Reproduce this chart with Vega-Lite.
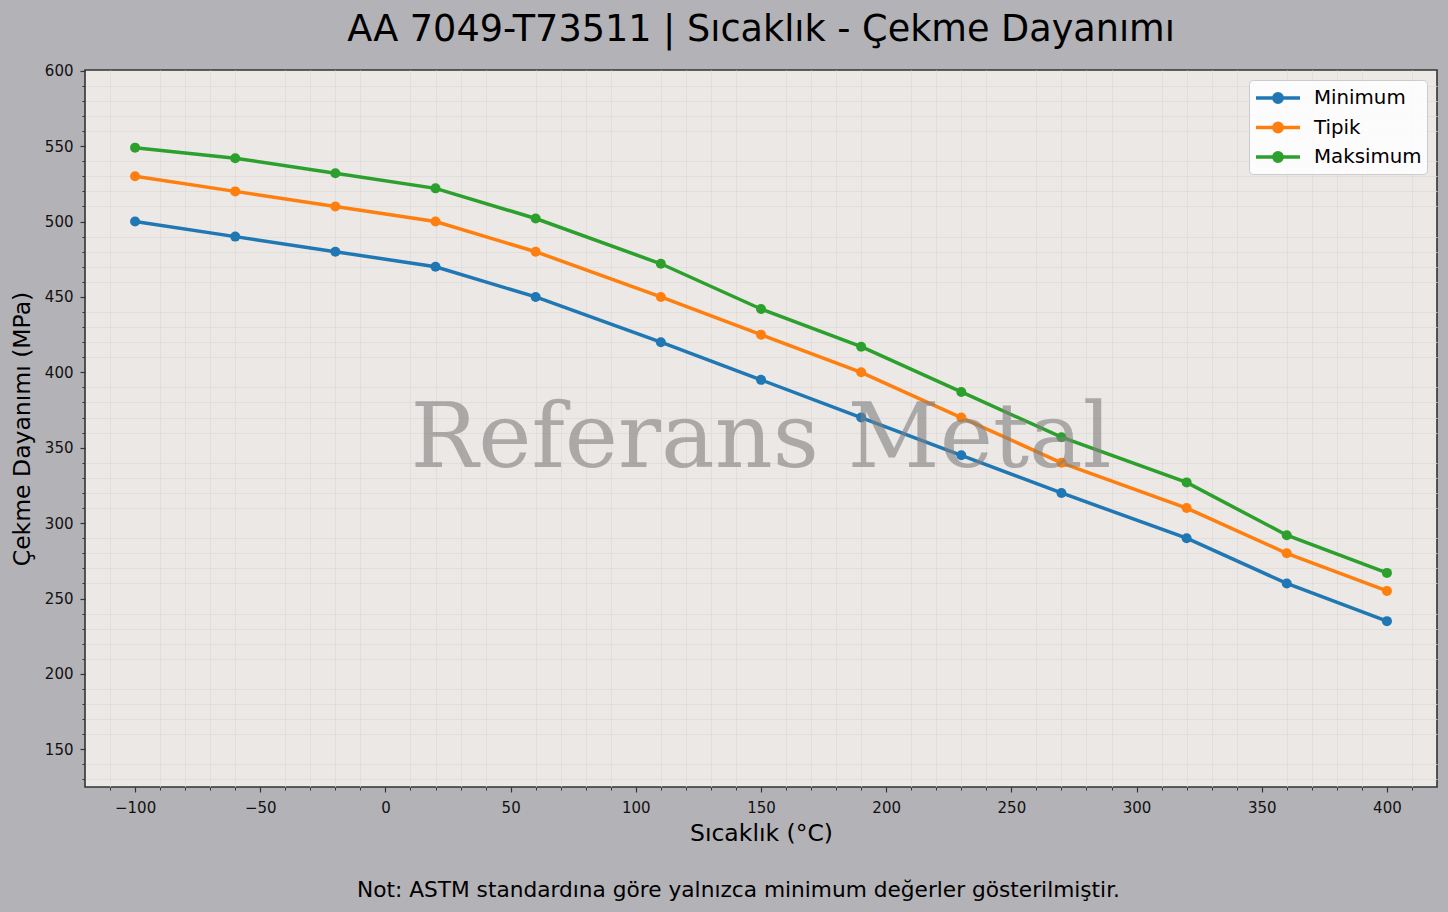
{
  "$schema": "https://vega.github.io/schema/vega-lite/v6.json",
  "description": "AA 7049-T73511 cekme dayanimi - sicaklik",
  "width": 1352,
  "height": 717,
  "autosize": {"type": "none"},
  "padding": {"left": 85, "top": 70, "right": 11, "bottom": 125},
  "background": "#b3b2b7",
  "title": {
    "text": "AA 7049-T73511 | Sıcaklık - Çekme Dayanımı",
    "font": "DejaVu Sans",
    "fontSize": 36.6,
    "fontWeight": "normal",
    "color": "#000000",
    "anchor": "middle",
    "frame": "group",
    "baseline": "bottom",
    "offset": 20,
    "dy": 42
  },
  "config": {
    "font": "DejaVu Sans",
    "view": {"fill": "#ebe8e6", "stroke": "#333333", "strokeWidth": 1.6}
  },
  "datasets": {
    "dayanim": [
      {"t": -100, "seri": "Minimum", "v": 500},
      {"t": -60, "seri": "Minimum", "v": 490},
      {"t": -20, "seri": "Minimum", "v": 480},
      {"t": 20, "seri": "Minimum", "v": 470},
      {"t": 60, "seri": "Minimum", "v": 450},
      {"t": 110, "seri": "Minimum", "v": 420},
      {"t": 150, "seri": "Minimum", "v": 395},
      {"t": 190, "seri": "Minimum", "v": 370},
      {"t": 230, "seri": "Minimum", "v": 345},
      {"t": 270, "seri": "Minimum", "v": 320},
      {"t": 320, "seri": "Minimum", "v": 290},
      {"t": 360, "seri": "Minimum", "v": 260},
      {"t": 400, "seri": "Minimum", "v": 235},
      {"t": -100, "seri": "Tipik", "v": 530},
      {"t": -60, "seri": "Tipik", "v": 520},
      {"t": -20, "seri": "Tipik", "v": 510},
      {"t": 20, "seri": "Tipik", "v": 500},
      {"t": 60, "seri": "Tipik", "v": 480},
      {"t": 110, "seri": "Tipik", "v": 450},
      {"t": 150, "seri": "Tipik", "v": 425},
      {"t": 190, "seri": "Tipik", "v": 400},
      {"t": 230, "seri": "Tipik", "v": 370},
      {"t": 270, "seri": "Tipik", "v": 340},
      {"t": 320, "seri": "Tipik", "v": 310},
      {"t": 360, "seri": "Tipik", "v": 280},
      {"t": 400, "seri": "Tipik", "v": 255},
      {"t": -100, "seri": "Maksimum", "v": 549},
      {"t": -60, "seri": "Maksimum", "v": 542},
      {"t": -20, "seri": "Maksimum", "v": 532},
      {"t": 20, "seri": "Maksimum", "v": 522},
      {"t": 60, "seri": "Maksimum", "v": 502},
      {"t": 110, "seri": "Maksimum", "v": 472},
      {"t": 150, "seri": "Maksimum", "v": 442},
      {"t": 190, "seri": "Maksimum", "v": 417},
      {"t": 230, "seri": "Maksimum", "v": 387},
      {"t": 270, "seri": "Maksimum", "v": 357},
      {"t": 320, "seri": "Maksimum", "v": 327},
      {"t": 360, "seri": "Maksimum", "v": 292},
      {"t": 400, "seri": "Maksimum", "v": 267}
    ]
  },
  "resolve": {"axis": {"x": "independent", "y": "independent"}},
  "layer": [
    {
      "data": {"name": "dayanim"},
      "mark": {"type": "point", "opacity": 0},
      "encoding": {
        "x": {
          "field": "t",
          "type": "quantitative",
          "scale": {"domain": [-120, 420], "nice": false, "zero": false},
          "axis": {
            "orient": "bottom",
            "title": null,
            "values": [-110, -90, -80, -70, -60, -40, -30, -20, -10, 10, 20, 30, 40, 60, 70, 80, 90, 110, 120, 130, 140, 160, 170, 180, 190, 210, 220, 230, 240, 260, 270, 280, 290, 310, 320, 330, 340, 360, 370, 380, 390, 410],
            "labels": false,
            "domain": false,
            "tickColor": "#333333",
            "tickWidth": 1,
            "tickSize": 3,
            "gridColor": "#dedad8",
            "gridWidth": 0.8
          }
        },
        "y": {
          "field": "v",
          "type": "quantitative",
          "scale": {"domain": [125, 600.5], "nice": false, "zero": false},
          "axis": {
            "orient": "left",
            "title": null,
            "values": [130, 140, 160, 170, 180, 190, 210, 220, 230, 240, 260, 270, 280, 290, 310, 320, 330, 340, 360, 370, 380, 390, 410, 420, 430, 440, 460, 470, 480, 490, 510, 520, 530, 540, 560, 570, 580, 590],
            "labels": false,
            "domain": false,
            "tickColor": "#333333",
            "tickWidth": 1,
            "tickSize": 3,
            "gridColor": "#dedad8",
            "gridWidth": 0.8
          }
        }
      }
    },
    {
      "data": {"name": "dayanim"},
      "mark": {
        "type": "line",
        "strokeWidth": 3.5,
        "point": {"filled": true, "size": 100}
      },
      "encoding": {
        "x": {
          "field": "t",
          "type": "quantitative",
          "axis": {
            "orient": "bottom",
            "title": "Sıcaklık (°C)",
            "titleFontSize": 23.5,
            "titleFontWeight": "normal",
            "titleColor": "#000000",
            "titlePadding": 6,
            "values": [-100, -50, 0, 50, 100, 150, 200, 250, 300, 350, 400],
            "labelFontSize": 15,
            "labelColor": "#111111",
            "labelPadding": 8,
            "labelFlush": false,
            "labelOverlap": false,
            "domain": false,
            "tickColor": "#333333",
            "tickWidth": 1.2,
            "tickSize": 5,
            "gridColor": "#cfcbc9",
            "gridWidth": 1.2
          }
        },
        "y": {
          "field": "v",
          "type": "quantitative",
          "axis": {
            "orient": "left",
            "title": "Çekme Dayanımı (MPa)",
            "titleFontSize": 23.5,
            "titleFontWeight": "normal",
            "titleColor": "#000000",
            "titlePadding": 10,
            "values": [150, 200, 250, 300, 350, 400, 450, 500, 550, 600],
            "labelFontSize": 15,
            "labelColor": "#111111",
            "labelPadding": 7,
            "labelFlush": false,
            "labelOverlap": false,
            "domain": false,
            "tickColor": "#333333",
            "tickWidth": 1.2,
            "tickSize": 5,
            "gridColor": "#cfcbc9",
            "gridWidth": 1.2
          }
        },
        "color": {
          "field": "seri",
          "type": "nominal",
          "sort": ["Minimum", "Tipik", "Maksimum"],
          "scale": {"domain": ["Minimum", "Tipik", "Maksimum"], "range": ["#1f77b4", "#ff7f0e", "#2ca02c"]},
          "legend": {
            "title": null,
            "orient": "top-right",
            "offset": 10,
            "padding": 5,
            "fillColor": "rgba(255,255,255,0.85)",
            "strokeColor": "#cccccc",
            "cornerRadius": 4,
            "labelFontSize": 19.8,
            "labelColor": "#000000",
            "labelOffset": 34,
            "rowPadding": 4.5,
            "symbolType": "M-1,0L3,0M1.38,0A0.38,0.38,0,1,1,0.62,0A0.38,0.38,0,1,1,1.38,0Z",
            "symbolSize": 484,
            "symbolStrokeWidth": 3.5,
            "encode": {
              "symbols": {"update": {"fill": {"scale": "color", "field": "value"}, "fillOpacity": {"value": 1}}}
            }
          }
        }
      }
    },
    {
      "data": {"values": [{"yazi": "Referans Metal"}]},
      "mark": {
        "type": "text",
        "font": "DejaVu Serif",
        "fontSize": 90,
        "color": "#808080",
        "opacity": 0.6,
        "align": "center",
        "baseline": "alphabetic"
      },
      "encoding": {
        "x": {"datum": 150, "type": "quantitative", "axis": null},
        "y": {"datum": 337, "type": "quantitative", "axis": null},
        "text": {"field": "yazi"}
      }
    },
    {
      "data": {"values": [{"not": "Not: ASTM standardına göre yalnızca minimum değerler gösterilmiştir."}]},
      "mark": {
        "type": "text",
        "font": "DejaVu Sans",
        "fontSize": 21.7,
        "color": "#000000",
        "align": "center",
        "baseline": "alphabetic"
      },
      "encoding": {
        "x": {"datum": 141, "type": "quantitative", "axis": null},
        "y": {"datum": 52, "type": "quantitative", "axis": null},
        "text": {"field": "not"}
      }
    }
  ]
}
